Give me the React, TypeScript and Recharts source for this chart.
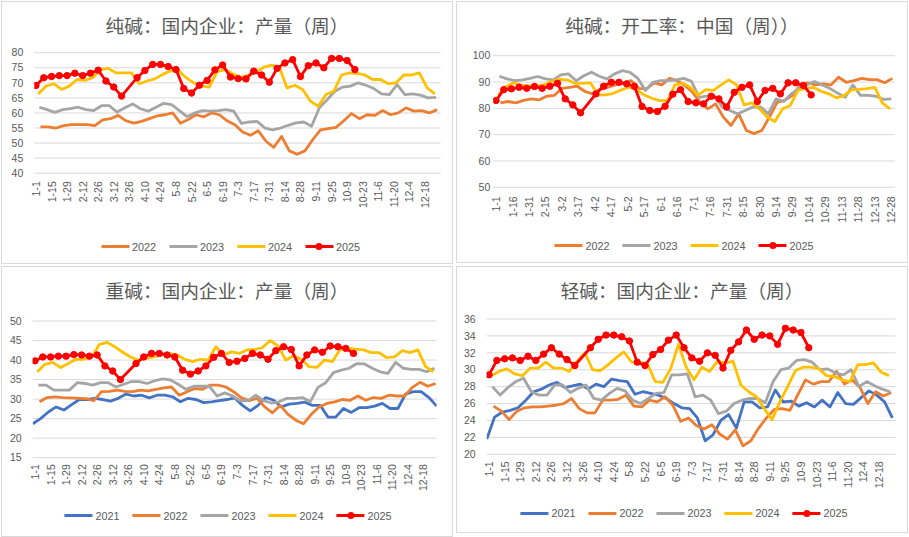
import React from "react";
import { LineChart, Line, XAxis, YAxis, CartesianGrid } from "recharts";

const NUM_FONT = '"Liberation Sans", Arial, sans-serif';
const TITLE_FONT = '"Noto Sans CJK SC", "Noto Sans", sans-serif';
const TEXT = "#595959";
const GRID = "#d9d9d9";

// axis labels
const weeklyTicks = ["1-1", "1-15", "1-29", "2-12", "2-26", "3-12", "3-26", "4-10", "4-24", "5-8", "5-22", "6-5", "6-19", "7-3", "7-17", "7-31", "8-14", "8-28", "9-11", "9-25", "10-9", "10-23", "11-6", "11-20", "12-4", "12-18"];
const halfMonthTicks = ["1-1", "1-16", "1-31", "2-15", "3-2", "3-17", "4-2", "4-17", "5-2", "5-17", "6-1", "6-16", "7-1", "7-16", "7-31", "8-15", "8-30", "9-14", "9-29", "10-14", "10-29", "11-13", "11-28", "12-13", "12-28"];

// first weekly reading of each year, in days after 1-1 (weekly Thursday data on a date axis)
const yearOffset: Record<string, number> = { "2021": -2, "2022": 4, "2023": 3, "2024": 2, "2025": 0 };

const yearColor: Record<string, string> = {
  "2021": "#4472c4",
  "2022": "#ed7d31",
  "2023": "#a5a5a5",
  "2024": "#ffc000",
  "2025": "#ff0000",
};

// 纯碱：国内企业：产量（周）
const sodaOutput2022 = [55.4, 55.4, 55.0, 55.8, 56.1, 56.1, 56.1, 55.8, 57.7, 58.1, 59.2, 57.4, 56.6, 57.2, 58.1, 59.0, 59.4, 60.0, 56.6, 57.8, 59.4, 58.7, 60.0, 59.4, 57.4, 56.1, 53.7, 52.6, 54.1, 50.6, 48.6, 52.2, 47.4, 46.3, 47.4, 51.1, 54.4, 54.8, 55.2, 57.4, 59.8, 58.1, 59.4, 59.2, 60.8, 59.4, 60.0, 61.7, 60.6, 60.8, 60.0, 61.1];
const sodaOutput2023 = [61.9, 61.1, 60.2, 61.1, 61.4, 61.9, 61.1, 60.8, 62.4, 62.4, 60.3, 61.7, 63.0, 61.4, 60.6, 61.9, 63.2, 62.8, 60.8, 58.8, 60.0, 60.8, 60.6, 60.8, 61.1, 60.6, 56.5, 57.0, 57.2, 55.0, 54.4, 55.0, 55.9, 56.7, 57.0, 55.6, 61.7, 64.4, 67.2, 68.6, 68.9, 70.0, 69.2, 68.1, 66.3, 66.1, 69.4, 66.1, 66.3, 65.9, 65.0, 65.2];
const sodaOutput2024 = [66.3, 68.9, 69.7, 67.8, 68.9, 71.1, 70.8, 71.7, 74.4, 74.8, 73.3, 73.3, 73.3, 69.7, 70.6, 71.3, 72.8, 73.9, 74.2, 71.7, 70.0, 68.9, 68.6, 73.7, 74.4, 73.0, 71.8, 72.5, 73.5, 75.2, 75.9, 75.2, 68.3, 69.2, 67.8, 63.9, 62.2, 66.1, 67.2, 72.6, 73.3, 73.1, 72.6, 71.1, 71.1, 69.7, 70.0, 72.6, 72.6, 73.3, 68.3, 66.3];
const sodaOutput2025 = [69.1, 71.7, 72.1, 72.4, 72.4, 73.2, 72.4, 73.2, 74.2, 70.6, 68.6, 65.6, null, 71.7, 74.1, 76.1, 76.1, 75.4, 74.4, 68.1, 66.6, 69.2, 70.8, 74.3, 75.9, 71.9, 71.4, 71.3, 73.9, 72.6, 70.2, 74.8, 76.6, 77.7, 72.1, 75.7, 76.6, 75.0, 78.1, 78.1, 77.4, 74.4];

// 纯碱：开工率：中国（周）
const runRate2022 = [82.1, 82.6, 82.1, 83.0, 83.6, 83.2, 84.6, 84.9, 87.6, 88.0, 88.4, 86.4, 85.5, 87.4, 88.0, 88.9, 89.7, 90.5, 87.6, 87.4, 89.7, 88.9, 91.4, 90.5, 88.7, 86.1, 82.3, 79.8, 81.7, 76.7, 73.5, 77.9, 71.6, 70.4, 71.6, 76.7, 82.3, 83.0, 84.9, 88.7, 89.7, 88.9, 89.3, 88.9, 91.8, 89.9, 90.5, 91.4, 90.9, 90.9, 89.7, 91.4];
const runRate2023 = [92.2, 91.2, 90.5, 90.8, 91.4, 92.1, 91.2, 90.8, 92.7, 93.1, 90.5, 92.4, 93.7, 92.2, 91.2, 93.1, 94.3, 93.7, 91.5, 86.8, 89.9, 90.5, 90.5, 90.8, 91.4, 90.3, 84.2, 84.6, 84.9, 80.5, 79.2, 77.9, 79.2, 80.5, 80.5, 77.9, 83.6, 82.6, 85.5, 87.6, 88.9, 90.2, 88.9, 87.6, 85.8, 84.2, 88.9, 84.9, 84.9, 84.6, 83.4, 83.6];
const runRate2024 = [85.1, 88.2, 89.7, 88.8, 88.5, 88.5, 89.0, 90.3, 91.0, 90.8, 89.5, 89.5, 89.7, 85.1, 85.1, 85.7, 87.0, 88.0, 87.0, 85.1, 83.8, 82.9, 82.9, 88.9, 89.5, 88.0, 85.0, 87.1, 86.8, 88.9, 90.8, 88.9, 81.3, 82.1, 79.8, 76.7, 75.0, 79.8, 81.1, 86.8, 87.6, 88.0, 86.5, 85.5, 84.0, 84.8, 87.1, 87.2, 87.5, 88.0, 82.0, 79.8];
const runRate2025 = [83.0, 87.1, 87.4, 88.0, 87.6, 88.3, 87.6, 88.4, 89.5, 83.6, 81.3, 78.3, null, 85.5, 88.4, 89.9, 89.9, 89.3, 88.4, 80.7, 79.2, 78.8, 80.8, 85.4, 87.1, 82.6, 82.1, 81.7, 84.6, 83.6, 80.5, 86.1, 88.0, 88.9, 82.6, 86.8, 87.6, 85.5, 89.7, 89.7, 88.7, 85.1];

// 重碱：国内企业：产量（周）
const denseOutput2021 = [23.7, 25.0, 26.7, 28.0, 27.2, 28.6, 29.9, 29.9, 30.2, 29.9, 29.5, 30.2, 31.3, 30.8, 31.0, 30.3, 31.0, 31.0, 30.6, 29.3, 30.2, 29.9, 29.1, 29.3, 29.6, 29.9, 30.3, 28.4, 27.0, 28.4, 30.4, 29.7, 28.0, 28.7, 28.9, 29.2, 28.4, 28.4, 25.4, 25.4, 27.6, 26.6, 27.8, 27.8, 28.2, 28.9, 27.6, 27.6, 31.3, 31.9, 31.9, 30.4, 28.2];
const denseOutput2022 = [29.3, 30.4, 30.6, 30.4, 30.3, 30.2, 30.1, 29.6, 31.9, 32.0, 32.3, 32.0, 31.9, 32.3, 32.1, 32.5, 32.9, 33.1, 31.0, 31.9, 32.7, 32.5, 33.6, 33.6, 33.1, 31.9, 30.3, 29.6, 30.2, 28.0, 26.5, 28.4, 26.1, 24.6, 23.7, 26.1, 28.0, 28.9, 29.3, 29.9, 29.7, 30.8, 29.7, 30.4, 30.2, 31.0, 30.8, 30.8, 33.0, 34.3, 33.3, 34.0];
const denseOutput2023 = [33.6, 33.6, 32.3, 32.3, 32.3, 34.2, 34.0, 33.6, 34.2, 34.2, 33.1, 33.8, 34.5, 34.5, 34.0, 34.7, 35.2, 34.9, 33.8, 32.5, 33.3, 33.3, 33.3, 30.8, 31.6, 30.8, 29.6, 29.6, 31.0, 29.6, 29.0, 29.3, 30.2, 30.2, 30.4, 29.3, 33.0, 34.2, 36.8, 37.4, 37.9, 39.1, 39.0, 37.9, 37.0, 36.6, 39.4, 37.9, 37.6, 37.6, 37.0, 37.9];
const denseOutput2024 = [37.0, 38.9, 39.4, 38.1, 39.1, 40.2, 40.2, 40.8, 44.0, 44.5, 43.4, 42.0, 40.8, 40.0, 40.4, 40.8, 41.3, 41.7, 41.3, 40.2, 39.6, 40.2, 40.0, 43.4, 41.3, 42.1, 41.7, 42.6, 42.7, 43.2, 45.0, 43.6, 40.0, 41.1, 40.2, 38.3, 38.1, 40.0, 39.6, 42.7, 43.0, 42.8, 42.6, 41.9, 41.9, 40.6, 40.8, 42.4, 41.9, 42.6, 38.3, 37.0];
const denseOutput2025 = [39.8, 40.8, 40.8, 41.0, 41.0, 41.4, 41.3, 41.0, 41.3, 38.5, 37.2, 35.0, null, 39.1, 40.8, 41.7, 41.7, 41.3, 40.8, 37.4, 36.4, 37.2, 38.5, 40.7, 41.7, 39.4, 39.7, 40.4, 41.7, 41.3, 40.2, 42.4, 43.4, 42.7, 38.5, 41.3, 42.6, 42.0, 43.6, 43.4, 43.0, 41.7];

// 轻碱：国内企业：产量（周）
const lightOutput2021 = [21.8, 24.4, 25.0, 25.2, 25.5, 26.4, 27.4, 27.7, 28.2, 28.5, 27.9, 28.1, 28.3, 27.7, 28.3, 28.0, 28.9, 28.7, 28.6, 27.1, 27.4, 27.2, 27.0, 26.6, 26.0, 25.5, 25.4, 24.3, 21.6, 22.3, 24.0, 24.7, 23.1, 26.2, 26.2, 25.5, 25.6, 27.6, 26.2, 26.3, 25.7, 26.1, 25.6, 26.4, 25.6, 27.3, 26.0, 25.9, 26.7, 27.5, 27.0, 26.2, 24.3];
const lightOutput2022 = [25.7, 25.1, 24.1, 25.1, 25.5, 25.6, 25.6, 25.7, 25.8, 26.0, 26.6, 25.4, 24.9, 24.9, 26.4, 26.4, 26.5, 27.0, 25.7, 25.6, 26.4, 26.2, 26.8, 25.8, 23.9, 24.3, 23.4, 23.0, 23.5, 22.4, 21.8, 22.9, 21.0, 21.6, 23.1, 24.3, 25.3, 25.4, 25.2, 27.0, 28.8, 28.3, 28.6, 28.6, 29.8, 28.3, 28.8, 27.9, 26.0, 27.4, 26.9, 27.3];
const lightOutput2023 = [28.0, 27.0, 27.9, 28.6, 29.0, 27.4, 27.0, 27.0, 28.2, 28.2, 27.3, 27.8, 28.2, 26.6, 26.4, 27.2, 27.8, 27.5, 26.4, 26.0, 26.6, 27.2, 27.3, 29.4, 29.4, 29.5, 26.8, 27.0, 26.4, 24.8, 25.1, 26.0, 26.4, 26.6, 26.6, 26.1, 28.6, 30.0, 30.2, 31.1, 31.2, 30.9, 30.0, 30.1, 29.6, 29.4, 30.0, 28.0, 28.6, 28.1, 27.7, 27.4];
const lightOutput2024 = [29.3, 29.8, 30.1, 29.5, 29.3, 30.2, 30.2, 30.9, 30.2, 30.2, 29.8, 31.0, 32.0, 30.0, 29.9, 30.6, 31.4, 32.1, 30.9, 30.8, 30.8, 28.6, 28.5, 30.1, 33.0, 30.3, 28.8, 30.3, 29.8, 31.0, 30.8, 31.0, 28.2, 27.4, 26.8, 25.4, 24.1, 26.2, 28.0, 29.9, 30.3, 30.3, 30.1, 29.3, 29.2, 28.8, 28.6, 30.6, 30.6, 30.8, 29.7, 29.3];
const lightOutput2025 = [29.4, 31.1, 31.3, 31.4, 31.1, 31.6, 31.1, 31.85, 32.6, 31.85, 31.2, 30.5, null, 32.6, 33.6, 34.1, 34.1, 33.9, 33.4, 30.9, 30.5, 31.8, 32.4, 33.5, 34.1, 32.6, 31.4, 31.0, 32.0, 31.7, 30.2, 32.3, 33.3, 34.7, 33.6, 34.1, 34.0, 33.0, 34.9, 34.7, 34.4, 32.6];

type Values = (number | null)[];

const toPoints = (values: Values, year: string) =>
  values.map((v, i) => ({ x: i * 7 + yearOffset[year], v }));

interface PanelProps {
  box: { left: number; top: number; width: number; height: number };
  title: string;
  series: Record<string, Values>;
  yDomain: [number, number];
  yTicks: number[];
  yGap: number;
  xDomain: [number, number];
  xLabels: string[];
  xStep: number;
  xGap: number;
  plot: { left: number; top: number; right: number; bottom: number };
  legend: { x: number; y: number };
}

function XTick(props: any) {
  const { x, y, payload, labels, step } = props;
  const label = labels[Math.round(payload.value / step)] ?? "";
  return (
    <text
      transform={`translate(${x},${y}) rotate(-90)`}
      textAnchor="end"
      dominantBaseline="central"
      fontSize={10.5}
      fontFamily={NUM_FONT}
      fill={TEXT}
    >
      {label}
    </text>
  );
}

function Panel({ box, title, series, yDomain, yTicks, yGap, xDomain, xLabels, xStep, xGap, plot, legend }: PanelProps) {
  const years = Object.keys(series);
  const xTicks = xLabels.map((_, i) => i * xStep);
  return (
    <div style={{ position: "absolute", left: box.left, top: box.top, width: box.width, height: box.height }}>
      <div
        style={{
          position: "absolute",
          left: 0,
          top: 0,
          width: box.width,
          height: box.height,
          boxSizing: "border-box",
          border: `1px solid ${GRID}`,
        }}
      />
      <div
        style={{
          position: "absolute",
          left: 0,
          top: 14.5,
          width: box.width,
          textAlign: "center",
          fontFamily: TITLE_FONT,
          fontSize: 18.7,
          lineHeight: "18.7px",
          color: TEXT,
          whiteSpace: "nowrap",
        }}
      >
        {title}
      </div>
      <div style={{ position: "absolute", left: 0, top: 0 }}>
        <LineChart
          width={box.width}
          height={box.height}
          margin={{ top: plot.top, right: plot.right, bottom: plot.bottom - 40, left: 0 }}
        >
          <CartesianGrid vertical={false} stroke={GRID} strokeWidth={1} />
          <XAxis
            type="number"
            dataKey="x"
            domain={xDomain}
            ticks={xTicks}
            interval={0}
            allowDataOverflow
            height={40}
            axisLine={false}
            tickLine={false}
            tickSize={0}
            tickMargin={xGap}
            tick={<XTick labels={xLabels} step={xStep} />}
          />
          <YAxis
            type="number"
            domain={yDomain}
            ticks={yTicks}
            interval={0}
            width={plot.left}
            axisLine={false}
            tickLine={false}
            tickSize={0}
            tickMargin={yGap}
            tick={{ fill: TEXT, fontSize: 10.5, fontFamily: NUM_FONT }}
          />
          {years.map((year) => {
            const current = year === "2025";
            return (
              <Line
                key={year}
                name={year}
                type="linear"
                data={toPoints(series[year], year)}
                dataKey="v"
                stroke={yearColor[year]}
                strokeWidth={2.8}
                strokeLinejoin="round"
                dot={current ? { r: 3.2, fill: yearColor[year], stroke: yearColor[year], strokeWidth: 1 } : false}
                activeDot={false}
                connectNulls={current}
                isAnimationActive={false}
              />
            );
          })}
        </LineChart>
      </div>
      <div
        style={{
          position: "absolute",
          left: legend.x,
          top: legend.y - 8,
          height: 16,
          transform: "translateX(-50%)",
          display: "flex",
          alignItems: "center",
          gap: 13,
          whiteSpace: "nowrap",
          fontFamily: NUM_FONT,
          fontSize: 10.8,
          color: TEXT,
        }}
      >
        {years.map((year) => (
          <div key={year} style={{ display: "flex", alignItems: "center" }}>
            <span
              style={{
                position: "relative",
                display: "inline-block",
                width: 28,
                height: 3,
                background: yearColor[year],
              }}
            >
              {year === "2025" && (
                <span
                  style={{
                    position: "absolute",
                    left: 10.5,
                    top: -2,
                    width: 7,
                    height: 7,
                    borderRadius: "50%",
                    background: yearColor[year],
                  }}
                />
              )}
            </span>
            <span style={{ marginLeft: 3 }}>{year}</span>
          </div>
        ))}
      </div>
    </div>
  );
}

export default function App() {
  return (
    <div style={{ position: "absolute", left: 0, top: 0, width: 909, height: 537, background: "#fff", overflow: "hidden" }}>
      <Panel
        box={{ left: 1, top: 1, width: 452, height: 263 }}
        title="纯碱：国内企业：产量（周）"
        series={{ "2022": sodaOutput2022, "2023": sodaOutput2023, "2024": sodaOutput2024, "2025": sodaOutput2025 }}
        yDomain={[40, 80]}
        yTicks={[40, 45, 50, 55, 60, 65, 70, 75, 80]}
        yGap={11}
        xDomain={[-1.5, 364.2]}
        xLabels={weeklyTicks}
        xStep={14}
        xGap={8}
        plot={{ left: 33.3, top: 51.7, right: 12.3, bottom: 90.8 }}
        legend={{ x: 229.5, y: 245.7 }}
      />
      <Panel
        box={{ left: 456, top: 1, width: 452, height: 262 }}
        title="纯碱：开工率：中国（周））"
        series={{ "2022": runRate2022, "2023": runRate2023, "2024": runRate2024, "2025": runRate2025 }}
        yDomain={[50, 100]}
        yTicks={[50, 60, 70, 80, 90, 100]}
        yGap={3}
        xDomain={[-2.5, 363.4]}
        xLabels={halfMonthTicks}
        xStep={15}
        xGap={9}
        plot={{ left: 37.3, top: 54.7, right: 13, bottom: 75.7 }}
        legend={{ x: 228, y: 244.7 }}
      />
      <Panel
        box={{ left: 1, top: 266, width: 452, height: 271 }}
        title="重碱：国内企业：产量（周）"
        series={{ "2021": denseOutput2021, "2022": denseOutput2022, "2023": denseOutput2023, "2024": denseOutput2024, "2025": denseOutput2025 }}
        yDomain={[15, 50]}
        yTicks={[15, 20, 25, 30, 35, 40, 45, 50]}
        yGap={11}
        xDomain={[-2.1, 362]}
        xLabels={weeklyTicks}
        xStep={14}
        xGap={6.5}
        plot={{ left: 31.7, top: 55, right: 16.3, bottom: 79.3 }}
        legend={{ x: 227, y: 249.7 }}
      />
      <Panel
        box={{ left: 456, top: 266, width: 452, height: 267 }}
        title="轻碱：国内企业：产量（周）"
        series={{ "2021": lightOutput2021, "2022": lightOutput2022, "2023": lightOutput2023, "2024": lightOutput2024, "2025": lightOutput2025 }}
        yDomain={[20, 36]}
        yTicks={[20, 22, 24, 26, 28, 30, 32, 34, 36]}
        yGap={11}
        xDomain={[-2.1, 365]}
        xLabels={weeklyTicks}
        xStep={14}
        xGap={7}
        plot={{ left: 30.7, top: 53, right: 12.3, bottom: 78.7 }}
        legend={{ x: 228, y: 247.3 }}
      />
    </div>
  );
}
